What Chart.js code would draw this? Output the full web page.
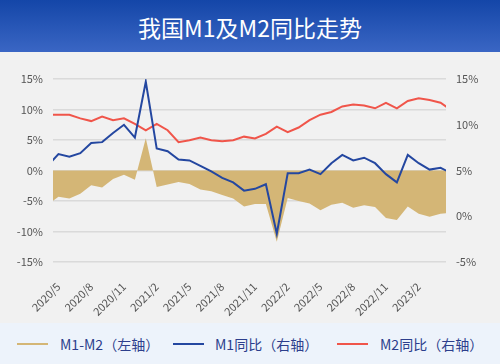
<!DOCTYPE html>
<html><head><meta charset="utf-8">
<script src="https://cdn.jsdelivr.net/npm/chart.js@4.4.1/dist/chart.umd.min.js"></script>
<style>
html,body{margin:0;padding:0;width:500px;height:364px;overflow:hidden;background:#f1f1f1;font-family:"Noto Sans CJK SC","Noto Sans",sans-serif;}
#hdr{position:absolute;left:0;top:0;width:500px;height:52px;background:linear-gradient(#1446a8,#3a66c4);color:#fff;font-size:23px;text-align:center;line-height:54px;}
#wrap{position:absolute;left:0;top:52px;width:500px;height:271px;}
#leg{position:absolute;left:0;top:323px;width:500px;height:41px;background:#edf3fb;}
.it{position:absolute;top:1px;height:41px;line-height:41px;font-size:14px;color:#2c3e8c;white-space:nowrap;}
.sw{position:absolute;top:20px;height:2px;width:31px;}
</style></head>
<body>
<div id="hdr">我国M1及M2同比走势</div>
<div id="wrap"><canvas id="c" width="500" height="271"></canvas></div>
<div id="leg">
  <div class="sw" style="left:17px;background:#d4b676"></div><div class="it" style="left:60px">M1-M2（左轴）</div>
  <div class="sw" style="left:173px;background:#2447a0"></div><div class="it" style="left:215px">M1同比（右轴）</div>
  <div class="sw" style="left:337px;background:#f0554a"></div><div class="it" style="left:380px">M2同比（右轴）</div>
</div>
<script>
const months = ['2020/4','2020/5','2020/6','2020/7','2020/8','2020/9','2020/10','2020/11','2020/12',
  '2021/1','2021/2','2021/3','2021/4','2021/5','2021/6','2021/7','2021/8','2021/9','2021/10','2021/11','2021/12',
  '2022/1','2022/2','2022/3','2022/4','2022/5','2022/6','2022/7','2022/8','2022/9','2022/10','2022/11','2022/12',
  '2023/1','2023/2','2023/3','2023/4','2023/5'];
const m1 = [5.5,6.8,6.5,6.9,8.0,8.1,9.1,10.0,8.6,
  14.7,7.4,7.1,6.2,6.1,5.5,4.9,4.2,3.7,2.8,3.0,3.5,
  -1.9,4.7,4.7,5.1,4.6,5.8,6.7,6.1,6.4,5.8,4.6,3.7,
  6.7,5.8,5.1,5.3,4.7];
const m2 = [11.1,11.1,11.1,10.7,10.4,10.9,10.5,10.7,10.1,
  9.4,10.1,9.4,8.1,8.3,8.6,8.3,8.2,8.3,8.7,8.5,9.0,
  9.8,9.2,9.7,10.5,11.1,11.4,12.0,12.2,12.1,11.8,12.4,11.8,
  12.6,12.9,12.7,12.4,11.6];
const m1m2 = [-5.6,-4.3,-4.6,-3.8,-2.4,-2.8,-1.4,-0.7,-1.5,
  5.3,-2.7,-2.3,-1.9,-2.2,-3.1,-3.4,-4.0,-4.6,-5.9,-5.5,-5.5,
  -11.7,-4.5,-5.0,-5.4,-6.5,-5.6,-5.3,-6.1,-5.7,-6.0,-7.8,-8.1,
  -5.9,-7.1,-7.6,-7.1,-6.9];
const xTickLabels = ['2020/5','2020/8','2020/11','2021/2','2021/5','2021/8','2021/11','2022/2','2022/5','2022/8','2022/11','2023/2'];
const firstShown = '2020/5', lastShown = '2023/4';

const toXY = arr => arr.map((v,i)=>({x:i,y:v}));
const tickFont = {family:'"Noto Sans CJK SC","Noto Sans",sans-serif', size:11};

new Chart(document.getElementById('c'), {
  type:'line',
  data:{datasets:[
    {label:'M1-M2（左轴）', data:toXY(m1m2), yAxisID:'y', fill:'origin', backgroundColor:'#d4b676', borderColor:'#d4b676', borderWidth:0, pointRadius:0, order:3, tension:0},
    {label:'M1同比（右轴）', data:toXY(m1), yAxisID:'y1', fill:false, borderColor:'#2447a0', borderWidth:2, pointRadius:0, order:1, tension:0},
    {label:'M2同比（右轴）', data:toXY(m2), yAxisID:'y1', fill:false, borderColor:'#f0554a', borderWidth:2, pointRadius:0, order:2, tension:0}
  ]},
  options:{
    responsive:false, animation:false,
    layout:{padding:{top:27,left:0,right:0,bottom:0}},
    plugins:{legend:{display:false}, tooltip:{enabled:false}},
    scales:{
      x:{type:'linear', min:months.indexOf(firstShown)-0.5, max:months.indexOf(lastShown)+0.5,
        grid:{display:false}, border:{display:false},
        afterBuildTicks: s => { s.ticks = xTickLabels.map(l=>({value:months.indexOf(l)})); },
        afterFit: s => { s.height = 61; },
        ticks:{autoSkip:false, minRotation:45, maxRotation:45, padding:10, color:'#555', font:tickFont,
          callback: v => months[v]}},
      y:{position:'left', min:-15, max:15,
        grid:{color:'#dadada', lineWidth:1.5, drawTicks:false}, border:{display:false},
        afterFit: s => { s.width = 53; },
        ticks:{stepSize:5, padding:10, color:'#555', font:tickFont, callback: v => v+'%'}},
      y1:{position:'right', min:-5, max:15,
        grid:{display:false, drawTicks:false}, border:{display:false},
        afterFit: s => { s.width = 54; },
        ticks:{stepSize:5, padding:10, color:'#555', font:tickFont, callback: v => v+'%'}}
    }
  }
});
</script>
</body></html>
